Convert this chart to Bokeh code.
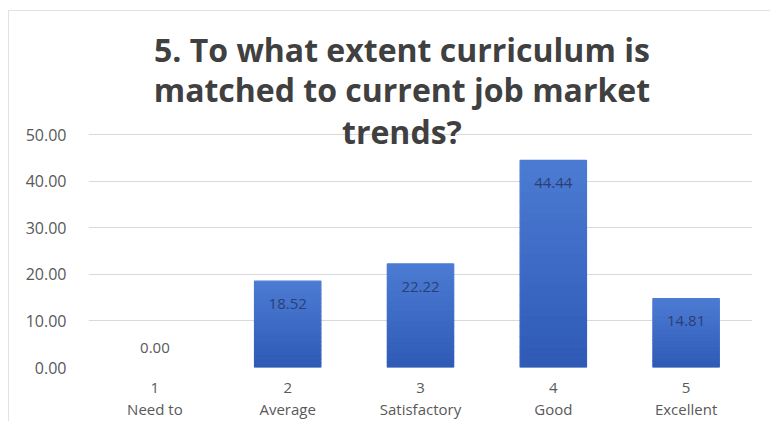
from bokeh.plotting import figure
from bokeh.models import ColumnDataSource, Label, FixedTicker
from bokeh.core.properties import value
from bokeh.embed import file_html
from bokeh.resources import INLINE

categories = ["1\nNeed to", "2\nAverage", "3\nSatisfactory", "4\nGood", "5\nExcellent"]
values = [0.00, 18.52, 22.22, 44.44, 14.81]
y_ticks = [0, 10, 20, 30, 40, 50]
title_lines = ["5. To what extent curriculum is", "matched to current job market", "trends?"]

FONT = "Open Sans"

# the frame reaches up to the chart's top so the overlapping title can be drawn inside it
p = figure(x_range=categories, y_range=(0, 76.4), frame_width=664, frame_height=356,
           output_backend="svg", toolbar_location=None,
           min_border_left=79, min_border_right=18, min_border_top=0, min_border_bottom=0)
p.outline_line_color = None
p.background_fill_color = "white"
p.border_fill_color = "white"
p.styles = {"border-top": "1px solid #e2e2e2", "border-left": "1px solid #e2e2e2",
            "margin-top": "10px", "margin-left": "8px"}

# gradient bars: split each bar into stripes (top lighter, bottom darker)
n = 20
top_c = (0x4C, 0x7B, 0xD3)
bot_c = (0x2E, 0x5A, 0xB6)
xs, bots, tops, cols = [], [], [], []
for c, v in zip(categories, values):
    if v <= 0:
        continue
    for i in range(n):
        f = (i + 0.5) / n
        r = [int(round(b + (t - b) * f)) for b, t in zip(bot_c, top_c)]
        xs.append(c)
        bots.append(v * i / n)
        tops.append(v * (i + 1) / n)
        cols.append("#%02x%02x%02x" % tuple(r))
p.vbar(x=xs, bottom=bots, top=tops, width=0.5, fill_color=cols, line_color=cols, line_width=1.2)

# value labels
lab_txt = ["%.2f" % v for v in values]
lab_col = ["#595959" if v == 0 else "#2a4075" for v in values]
lab_off = [-20 if v == 0 else 23 for v in values]
src = ColumnDataSource(dict(x=categories, y=values, t=lab_txt, c=lab_col, o=lab_off))
p.text(x="x", y="y", text="t", source=src, text_color="c", y_offset="o",
       text_align="center", text_baseline="middle", text_font=value(FONT), text_font_size="15px")

# axes
p.yaxis.ticker = FixedTicker(ticks=y_ticks)
p.yaxis.major_label_overrides = {t: "%.2f" % t for t in y_ticks}
p.yaxis.axis_line_color = None
p.yaxis.major_tick_line_color = None
p.yaxis.minor_tick_line_color = None
p.yaxis.major_label_standoff = 16
p.yaxis.major_label_text_font = FONT
p.yaxis.major_label_text_font_size = "16px"
p.yaxis.major_label_text_color = "#595959"

p.xaxis.axis_line_color = None
p.xaxis.major_tick_line_color = None
p.xaxis.major_label_standoff = 3
p.xaxis.major_label_text_font = FONT
p.xaxis.major_label_text_font_size = "15px"
p.xaxis.major_label_text_color = "#595959"
p.xaxis.major_label_text_line_height = 1.1

p.xgrid.grid_line_color = None
p.ygrid.grid_line_color = "#d9d9d9"
p.ygrid.grid_line_width = 1

# title as overlay labels (third line overlaps the plot area)
title_y = [68.2, 59.6, 50.6]
for line, ty in zip(title_lines, title_y):
    p.add_layout(Label(x=2.36, y=ty, text=line, text_align="center", text_baseline="middle",
                       text_font=FONT, text_font_size="32px", text_font_style="bold",
                       text_color="#404040"))

open("out.html", "w").write(file_html(p, INLINE))
